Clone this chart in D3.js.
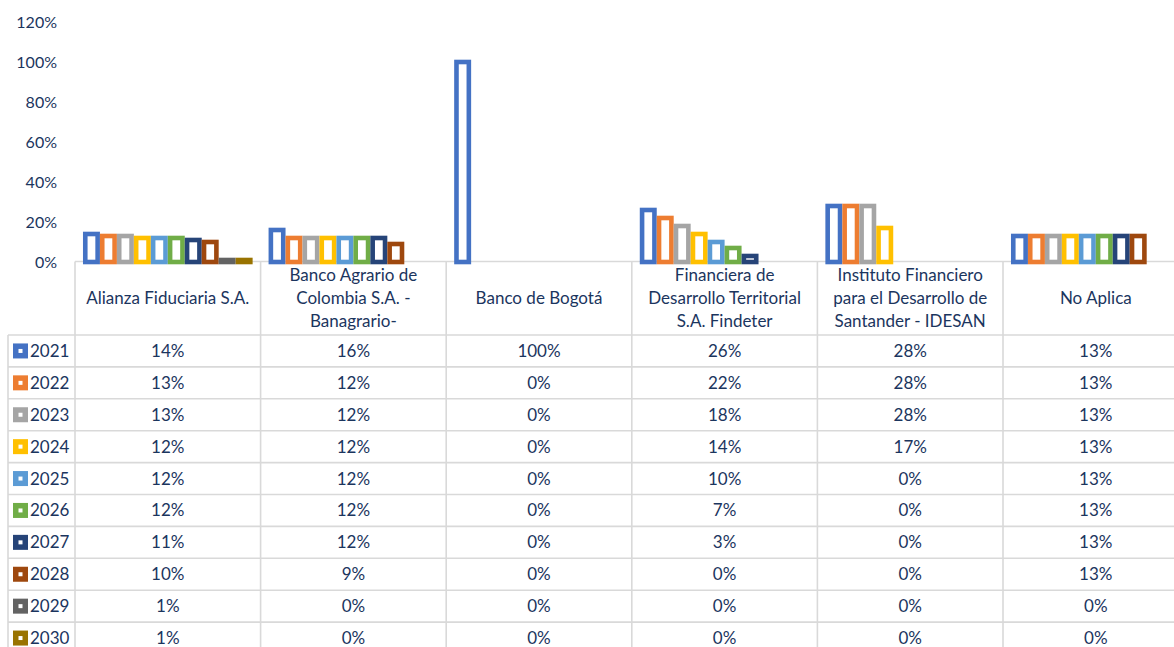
<!DOCTYPE html>
<html>
<head>
<meta charset="utf-8">
<script src="https://cdn.jsdelivr.net/npm/d3@7"></script>
<style>
  body { margin: 0; background: #fff; }
  svg { display: block; font-family: Lato, "Open Sans", sans-serif; }
</style>
</head>
<body>
<svg class="chart"></svg>
<script>
/* chart data */
const categories = [
  "Alianza Fiduciaria S.A.",
  "Banco Agrario de Colombia S.A. - Banagrario-",
  "Banco de Bogotá",
  "Financiera de Desarrollo Territorial S.A. Findeter",
  "Instituto Financiero para el Desarrollo de Santander - IDESAN",
  "No Aplica"
];
const categoryLines = [
  ["Alianza Fiduciaria S.A."],
  ["Banco Agrario de", "Colombia S.A. -", "Banagrario-"],
  ["Banco de Bogotá"],
  ["Financiera de", "Desarrollo Territorial", "S.A. Findeter"],
  ["Instituto Financiero", "para el Desarrollo de", "Santander - IDESAN"],
  ["No Aplica"]
];
const years = ["2021", "2022", "2023", "2024", "2025", "2026", "2027", "2028", "2029", "2030"];
const v2021 = [0.14, 0.16, 1.00, 0.26, 0.28, 0.13];
const v2022 = [0.13, 0.12, 0, 0.22, 0.28, 0.13];
const v2023 = [0.13, 0.12, 0, 0.18, 0.28, 0.13];
const v2024 = [0.12, 0.12, 0, 0.14, 0.17, 0.13];
const v2025 = [0.12, 0.12, 0, 0.10, 0, 0.13];
const v2026 = [0.12, 0.12, 0, 0.07, 0, 0.13];
const v2027 = [0.11, 0.12, 0, 0.03, 0, 0.13];
const v2028 = [0.10, 0.09, 0, 0, 0, 0.13];
const v2029 = [0.01, 0, 0, 0, 0, 0];
const v2030 = [0.01, 0, 0, 0, 0, 0];
const yTicks = [0, 0.2, 0.4, 0.6, 0.8, 1.0, 1.2];

const seriesValues = [v2021, v2022, v2023, v2024, v2025, v2026, v2027, v2028, v2029, v2030];
const colors = ["#4472C4", "#ED7D31", "#A5A5A5", "#FFC000", "#5B9BD5",
                "#70AD47", "#264478", "#9E480E", "#636363", "#997300"];

const width = 1174;
const height = 647;
const textColor = "#1B355E";
const gridColor = "#D9D9D9";

const svg = d3.select('.chart')
  .attr('width', width)
  .attr('height', height);

const plotLeft = 75;
const colW = 185.6;
const baseY = 262;

/* scales */
const x0 = d3.scaleBand()
  .domain(categories)
  .range([plotLeft, plotLeft + colW * categories.length]);

const x1 = d3.scaleBand()
  .domain(years)
  .range([0, x0.bandwidth()])
  .paddingInner(0)
  .paddingOuter(0.47);

const y = d3.scaleLinear()
  .domain([0, 1.2])
  .range([baseY, 22]);

const color = d3.scaleOrdinal().domain(years).range(colors);
const pct = d3.format(".0%");

/* y axis labels */
svg.append('g')
  .selectAll('text')
  .data(yTicks)
  .enter().append('text')
  .attr('x', 57)
  .attr('y', d => y(d))
  .attr('dy', '0.35em')
  .attr('text-anchor', 'end')
  .attr('fill', textColor)
  .style('font-size', '16px')
  .text(d => pct(d));

/* table grid */
const headerBottom = 335;
const rowH = 31.9;
const tableBottom = headerBottom + rowH * years.length;
const grid = svg.append('g')
  .attr('stroke', gridColor)
  .attr('stroke-width', 1.6)
  .attr('fill', 'none');

// baseline / top of header
grid.append('line')
  .attr('x1', plotLeft).attr('x2', width)
  .attr('y1', baseY - 0.5).attr('y2', baseY - 0.5);

// row lines
grid.selectAll('line.row')
  .data(d3.range(years.length + 1))
  .enter().append('line')
  .attr('class', 'row')
  .attr('x1', 8).attr('x2', width)
  .attr('y1', i => headerBottom + i * rowH)
  .attr('y2', i => headerBottom + i * rowH);

// column lines
grid.selectAll('line.col')
  .data(categories.concat(["end"]))
  .enter().append('line')
  .attr('class', 'col')
  .attr('x1', (d, i) => plotLeft + i * colW)
  .attr('x2', (d, i) => plotLeft + i * colW)
  .attr('y1', baseY - 0.5)
  .attr('y2', tableBottom + 20);

grid.append('line')
  .attr('x1', 8).attr('x2', 8)
  .attr('y1', headerBottom).attr('y2', tableBottom + 20);

/* bars */
const stroke = 4.6;
const groups = svg.append('g')
  .selectAll('g')
  .data(categories)
  .enter().append('g')
  .attr('transform', d => `translate(${x0(d)},0)`);

groups.selectAll('rect')
  .data((c, ci) => years.map((yr, si) => ({ year: yr, value: seriesValues[si][ci] })))
  .enter().filter(d => d.value > 0).append('rect')
  .attr('x', d => x1(d.year) + stroke / 2)
  .attr('width', x1.bandwidth() - stroke)
  .attr('y', d => y(d.value))
  .attr('height', d => baseY - y(d.value))
  .attr('fill', '#fff')
  .attr('stroke', d => color(d.year))
  .attr('stroke-width', stroke);

/* header labels */
const header = svg.append('g')
  .selectAll('text')
  .data(categories)
  .enter().append('text')
  .attr('text-anchor', 'middle')
  .attr('fill', textColor)
  .style('font-size', '17px')
  .attr('transform', d => `translate(${x0(d) + x0.bandwidth() / 2},0)`);

header.each(function (d, i) {
  const lines = categoryLines[i];
  const lh = 23;
  const top = (baseY + headerBottom) / 2 - (lines.length - 1) * lh / 2;
  d3.select(this).selectAll('tspan')
    .data(lines)
    .enter().append('tspan')
    .attr('x', 0)
    .attr('y', (l, j) => top + j * lh)
    .attr('dy', '0.35em')
    .text(l => l);
});

/* data rows */
const rows = svg.append('g')
  .selectAll('g')
  .data(years)
  .enter().append('g')
  .attr('transform', (d, i) => `translate(0,${headerBottom + i * rowH + rowH / 2})`);

// legend keys
rows.append('rect')
  .attr('x', 13).attr('y', -7.5)
  .attr('width', 15).attr('height', 15)
  .attr('fill', d => color(d));
rows.append('rect')
  .attr('x', 18.5).attr('y', -2)
  .attr('width', 4).attr('height', 4)
  .attr('fill', '#fff');

rows.append('text')
  .attr('x', 30)
  .attr('dy', '0.35em')
  .attr('fill', textColor)
  .style('font-size', '17px')
  .text(d => d);

rows.each(function (yr, si) {
  d3.select(this).selectAll('text.val')
    .data(seriesValues[si])
    .enter().append('text')
    .attr('class', 'val')
    .attr('x', (v, ci) => x0(categories[ci]) + x0.bandwidth() / 2)
    .attr('dy', '0.35em')
    .attr('text-anchor', 'middle')
    .attr('fill', textColor)
    .style('font-size', '17px')
    .text(v => pct(v));
});
</script>
</body>
</html>
